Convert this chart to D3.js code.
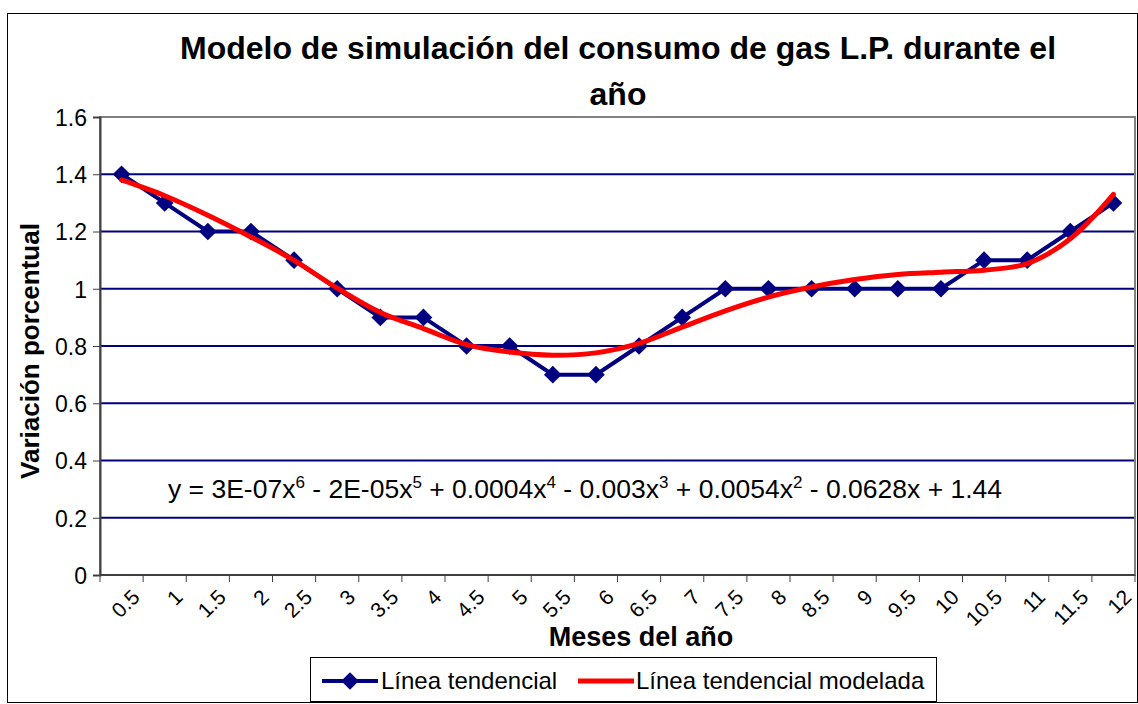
<!DOCTYPE html>
<html>
<head>
<meta charset="utf-8">
<script src="https://cdn.jsdelivr.net/npm/d3@7"></script>
<style>
	body { margin: 0; background: #ffffff; }
	text { font-family: "Liberation Sans", Arial, sans-serif; fill: #000000; }
</style>
</head>
<body>
<div id="chart"></div>
<script>

// months of the year (categories)
var meses = ["0.5", "1", "1.5", "2", "2.5", "3", "3.5", "4", "4.5", "5", "5.5", "6",
	"6.5", "7", "7.5", "8", "8.5", "9", "9.5", "10", "10.5", "11", "11.5", "12"];

// observed trend values
var tendencial = [1.4, 1.3, 1.2, 1.2, 1.1, 1.0, 0.9, 0.9, 0.8, 0.8, 0.7, 0.7,
	0.8, 0.9, 1.0, 1.0, 1.0, 1.0, 1.0, 1.0, 1.1, 1.1, 1.2, 1.3];

// modelled trend values
var modelada = [1.38, 1.325, 1.257, 1.181, 1.099, 1.002, 0.917, 0.861, 0.805, 0.779, 0.768, 0.776,
	0.809, 0.866, 0.923, 0.971, 1.006, 1.032, 1.05, 1.058, 1.065, 1.088, 1.175, 1.33];

// y axis ticks
var yticks = [0, 0.2, 0.4, 0.6, 0.8, 1, 1.2, 1.4, 1.6];

// margins of the plot area
var width = 1138,
	height = 704,
	plot = {left: 100, right: 1135, top: 117, bottom: 575};

var svg = d3.select("#chart")
	.append("svg")
	.attr("width", width)
	.attr("height", height);

// outer chart border
svg.append("rect")
	.attr("x", 7.5)
	.attr("y", 13.5)
	.attr("width", 1130)
	.attr("height", 689)
	.attr("fill", "none")
	.attr("stroke", "#000000")
	.attr("stroke-width", 1);

// scales
var x = d3.scaleBand()
	.domain(meses)
	.range([plot.left, plot.right]);

var y = d3.scaleLinear()
	.domain([0, 1.6])
	.range([plot.bottom, plot.top]);

// horizontal gridlines
svg.append("g")
	.selectAll("line")
	.data(yticks.filter(function(d){ return d > 0 && d < 1.6; }))
	.enter()
	.append("line")
	.attr("x1", plot.left)
	.attr("x2", plot.right)
	.attr("y1", function(d){ return y(d); })
	.attr("y2", function(d){ return y(d); })
	.attr("stroke", "#000080")
	.attr("stroke-width", 2);

// plot area border
svg.append("rect")
	.attr("x", plot.left)
	.attr("y", plot.top)
	.attr("width", plot.right - plot.left)
	.attr("height", plot.bottom - plot.top)
	.attr("fill", "none")
	.attr("stroke", "#808080")
	.attr("stroke-width", 2);

// y axis
var yaxis = svg.append("g")
	.attr("transform", "translate(" + plot.left + ",0)")
	.call(d3.axisLeft(y)
		.tickValues(yticks)
		.tickSize(7)
		.tickPadding(6)
		.tickFormat(function(d){ return d3.format("")(+d.toFixed(1)); }));

yaxis.selectAll("text")
	.style("font-size", "23px")
	.attr("dy", "0.36em");
yaxis.select(".domain").attr("stroke", "#404040").attr("stroke-width", 2);
yaxis.selectAll(".tick line").attr("stroke", "#404040");

// x axis, ticks between categories
var xaxis = svg.append("g")
	.attr("transform", "translate(0," + plot.bottom + ")");

xaxis.append("line")
	.attr("x1", plot.left)
	.attr("x2", plot.right)
	.attr("stroke", "#404040")
	.attr("stroke-width", 2);

xaxis.selectAll(".tk")
	.data(meses.concat(["end"]))
	.enter()
	.append("line")
	.attr("class", "tk")
	.attr("x1", function(d, i){ return plot.left + i * x.step(); })
	.attr("x2", function(d, i){ return plot.left + i * x.step(); })
	.attr("y1", 0)
	.attr("y2", 7)
	.attr("stroke", "#404040");

xaxis.selectAll(".lbl")
	.data(meses)
	.enter()
	.append("text")
	.attr("class", "lbl")
	.attr("text-anchor", "end")
	.attr("transform", function(d){
		return "translate(" + (x(d) + x.bandwidth() / 2 + 9) + ",13) rotate(-45)";
	})
	.attr("dy", "0.7em")
	.style("font-size", "21px")
	.text(function(d){ return d; });

// line generators
var line = d3.line()
	.x(function(d, i){ return x(meses[i]) + x.bandwidth() / 2; })
	.y(function(d){ return y(d); });

var curve = d3.line()
	.curve(d3.curveCatmullRom.alpha(0.5))
	.x(function(d, i){ return x(meses[i]) + x.bandwidth() / 2; })
	.y(function(d){ return y(d); });

// observed series
svg.append("path")
	.datum(tendencial)
	.attr("d", line)
	.attr("fill", "none")
	.attr("stroke", "#000080")
	.attr("stroke-width", 4);

var diamond = d3.symbol().type(d3.symbolDiamond2).size(200);

svg.append("g")
	.selectAll("path")
	.data(tendencial)
	.enter()
	.append("path")
	.attr("d", diamond)
	.attr("transform", function(d, i){
		return "translate(" + (x(meses[i]) + x.bandwidth() / 2) + "," + y(d) + ")";
	})
	.attr("fill", "#000080");

// modelled series
svg.append("path")
	.datum(modelada)
	.attr("d", curve)
	.attr("fill", "none")
	.attr("stroke", "#ff0000")
	.attr("stroke-width", 5)
	.attr("stroke-linecap", "round");

// equation of the trendline
var eq = svg.append("text")
	.attr("x", 168)
	.attr("y", 498)
	.style("font-size", "26.5px");

var parts = [["y = 3E-07x", "6"], [" - 2E-05x", "5"], [" + 0.0004x", "4"],
	[" - 0.003x", "3"], [" + 0.0054x", "2"], [" - 0.0628x + 1.44", ""]];

var shift = 0;
parts.forEach(function(p){
	eq.append("tspan").attr("dy", -shift).text(p[0]);
	shift = 0;
	if (p[1]) {
		eq.append("tspan")
			.attr("dy", -10)
			.style("font-size", "17px")
			.text(p[1]);
		shift = -10;
	}
});

// title
svg.append("text")
	.attr("x", 618)
	.attr("y", 59)
	.attr("text-anchor", "middle")
	.style("font-size", "32px")
	.style("font-weight", "bold")
	.text("Modelo de simulación del consumo de gas L.P. durante el");

svg.append("text")
	.attr("x", 618)
	.attr("y", 105)
	.attr("text-anchor", "middle")
	.style("font-size", "32px")
	.style("font-weight", "bold")
	.text("año");

// axis titles
svg.append("text")
	.attr("transform", "translate(39,351) rotate(-90)")
	.attr("text-anchor", "middle")
	.style("font-size", "26px")
	.style("font-weight", "bold")
	.text("Variación porcentual");

svg.append("text")
	.attr("x", 641)
	.attr("y", 646)
	.attr("text-anchor", "middle")
	.style("font-size", "27px")
	.style("font-weight", "bold")
	.text("Meses del año");

// legend
var legend = svg.append("g");

legend.append("rect")
	.attr("x", 310.5)
	.attr("y", 657.5)
	.attr("width", 626)
	.attr("height", 44)
	.attr("fill", "#ffffff")
	.attr("stroke", "#000000");

legend.append("line")
	.attr("x1", 322).attr("x2", 378)
	.attr("y1", 681).attr("y2", 681)
	.attr("stroke", "#000080")
	.attr("stroke-width", 4);

legend.append("path")
	.attr("d", diamond)
	.attr("transform", "translate(350,681)")
	.attr("fill", "#000080");

legend.append("text")
	.attr("x", 381)
	.attr("y", 689)
	.style("font-size", "24px")
	.text("Línea tendencial");

legend.append("line")
	.attr("x1", 578).attr("x2", 634)
	.attr("y1", 681).attr("y2", 681)
	.attr("stroke", "#ff0000")
	.attr("stroke-width", 5);

legend.append("text")
	.attr("x", 636)
	.attr("y", 689)
	.style("font-size", "24px")
	.text("Línea tendencial modelada");

</script>
</body>
</html>
